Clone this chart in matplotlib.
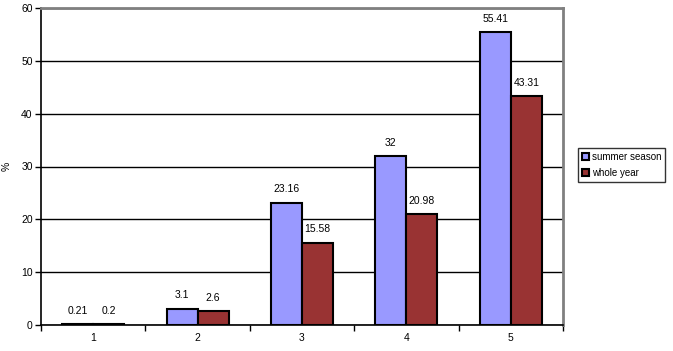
import numpy as np
import matplotlib.pyplot as plt

plt.rcParams['font.family'] = ['Liberation Sans', 'DejaVu Sans']

categories = ['1', '2', '3', '4', '5']
summer = [0.21, 3.1, 23.16, 32, 55.41]
whole = [0.2, 2.6, 15.58, 20.98, 43.31]

fig = plt.figure(figsize=(6.73, 3.51), dpi=100)
ax = fig.add_axes([41/673, 26/351, 522/673, 317/351])

x = np.arange(len(categories))
w = 0.296
b1 = ax.bar(x - w/2, summer, w, color='#9999FF', edgecolor='black', linewidth=1.5, label='summer season', zorder=3)
b2 = ax.bar(x + w/2, whole, w, color='#993333', edgecolor='black', linewidth=1.5, label='whole year', zorder=3)

for bars, vals in [(b1, summer), (b2, whole)]:
    for r, v in zip(bars, vals):
        ax.annotate(str(v), (r.get_x() + r.get_width()/2, v), xytext=(0, 6),
                    textcoords='offset points', ha='center', va='bottom', fontsize=7.5)

ax.set_xlim(-0.5, 4.5)
ax.set_ylim(0, 60)
ax.set_yticks(range(0, 61, 10))
ax.set_xticks(x)
ax.set_xticklabels(categories, fontsize=7.5)
ax.set_xticks(np.arange(-0.5, 5, 1), minor=True)
ax.tick_params(axis='x', which='major', length=0, pad=6)
ax.tick_params(axis='x', which='minor', length=4, width=1, direction='out')
ax.tick_params(axis='y', length=4, width=1, labelsize=7.5, pad=2)
ax.yaxis.grid(True, color='black', linewidth=1, zorder=0)
ax.set_axisbelow(True)

ax.spines['left'].set_color('black')
ax.spines['bottom'].set_color('black')
ax.spines['left'].set_linewidth(1.2)
ax.spines['bottom'].set_linewidth(1.2)
ax.spines['top'].set_color('gray')
ax.spines['right'].set_color('gray')
ax.spines['top'].set_linewidth(2)
ax.spines['right'].set_linewidth(2)

ax.set_ylabel('%', fontsize=7.5, labelpad=7)

leg = fig.legend(loc='center left', bbox_to_anchor=(578/673, 0.53), fontsize=7,
                 frameon=True, fancybox=False, edgecolor='black',
                 handlelength=0.7, handleheight=0.7, handletextpad=0.3,
                 borderpad=0.4, labelspacing=0.6, borderaxespad=0)
leg.get_frame().set_linewidth(1)

fig.savefig('out.png', dpi=100)
